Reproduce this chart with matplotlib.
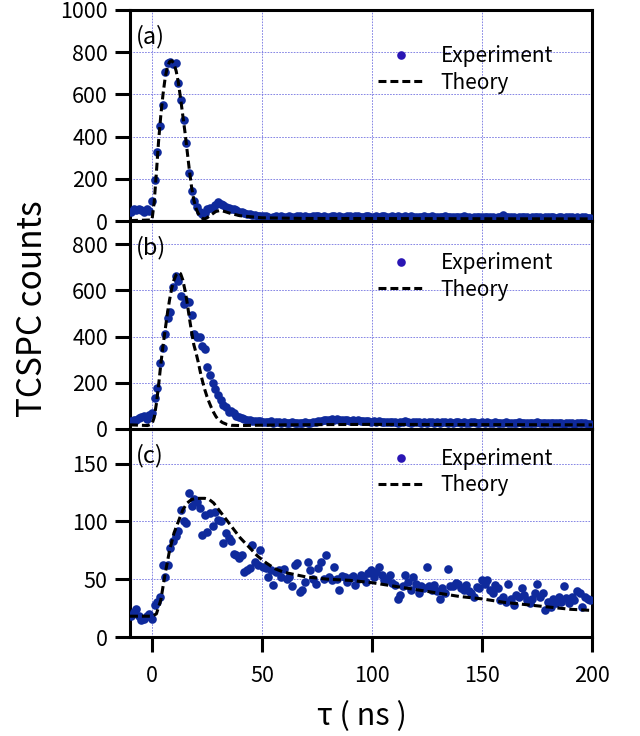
import numpy as np
import matplotlib.pyplot as plt

plt.rcParams.update({
    'font.family': ['Noto Sans CJK JP', 'DejaVu Sans'],
    'font.size': 15,
})

# TCSPC time bins (ns)
t_bins = np.linspace(-9.6, 199.2, 175)

exp_a = [45, 55, 50, 58, 50, 45, 55, 48, 97, 192, 328, 451,
         549, 706, 747, 752, 745, 747, 652, 574, 479, 372, 228, 140,
         97, 66, 42, 32, 38, 55, 62, 60, 75, 90, 82, 75,
         68, 62, 58, 55, 50, 45, 42, 38, 35, 32, 30, 28,
         25, 24, 22,
         22, 20, 8, 18, 22, 20, 24, 19, 21, 23, 20, 18,
         25, 22, 20, 24, 21, 19, 23, 26, 22, 20, 24, 21,
         19, 22, 25, 20, 23, 21, 19, 24, 22, 20, 26, 23,
         21, 19, 22, 24, 20, 18, 23, 21, 25, 22, 19, 21,
         24, 20, 22, 18, 21, 23, 19, 22, 20, 17, 21, 19,
         22, 18, 20, 23, 19, 21, 17, 20, 22, 19, 18, 21,
         20, 17, 19, 22, 18, 20, 16, 19, 21, 18, 20, 17,
         19, 21, 18, 16, 20, 18, 28, 19, 17, 20, 18, 16,
         19, 17, 20, 18, 16, 19, 17, 21, 18, 16, 19, 17,
         20, 18, 16, 19, 17, 15, 18, 20, 17, 16, 18, 15,
         17, 19, 16, 14]

exp_b = [35, 40, 38, 48, 50, 55, 45, 62, 70, 136, 179, 287,
         349, 412, 480, 505, 615, 660, 640, 575, 540, 555, 550, 495,
         410, 398, 400, 360, 345, 270, 232, 200, 175, 145, 125, 105,
         95, 75, 78, 70, 55, 52, 48, 44, 40, 38, 35, 34,
         36, 33, 30,
         32, 30, 34, 28, 31, 29, 27, 30, 28, 26, 29, 27,
         28, 25, 27, 29, 26, 28, 30, 32, 34, 36, 38, 40,
         38, 42, 39, 44, 40, 37, 41, 38, 36, 39, 35, 37,
         34, 36, 33, 35, 32, 34, 31, 33, 30, 32, 29, 31,
         30, 32, 28, 31, 29, 33, 30, 28, 32, 29, 31, 27,
         30, 28, 31, 29, 27, 30, 28, 32, 29, 27, 30, 28,
         31, 29, 27, 30, 28, 26, 29, 31, 28, 26, 29, 27,
         30, 28, 26, 29, 27, 25, 28, 30, 27, 25, 28, 26,
         29, 27, 25, 28, 26, 24, 27, 29, 26, 24, 27, 25,
         28, 26, 24, 27, 25, 23, 26, 28, 25, 23, 26, 24,
         27, 25, 23, 22]

exp_c = [18, 22, 24, 18, 15, 16, 18, 20, 16, 28, 30, 35,
         62, 52, 62, 77, 83, 87, 92, 110, 100, 99, 125, 113,
         119, 117, 112, 88, 106, 91, 107, 96, 108, 101, 100, 81,
         90, 86, 83, 72, 71, 68, 71, 56, 58, 60, 80, 65,
         62, 75, 61, 60, 52, 58, 45, 56, 58, 52, 59, 50,
         52, 44, 62, 64, 39, 41, 48, 65, 58, 50, 46, 60,
         65, 50, 71, 52, 49, 61, 50, 41, 53, 52, 48, 51,
         53, 45, 50, 54, 52, 48, 55, 58, 52, 56, 61, 54,
         49, 50, 54, 47, 45, 33, 36, 44, 54, 48, 41, 52,
         46, 38, 44, 42, 61, 44, 41, 45, 40, 33, 42, 38,
         59, 44, 44, 47, 46, 42, 41, 45, 40, 38, 35, 43,
         42, 49, 46, 49, 41, 38, 45, 42, 32, 35, 30, 46,
         33, 28, 36, 35, 42, 36, 32, 29, 33, 38, 46, 35,
         38, 23, 30, 26, 33, 29, 35, 30, 44, 34, 29, 35,
         32, 40, 38, 26, 35, 33, 32]

# ----- theory curves -----
th_t_a = [-10, 0, 1, 2, 3, 4, 5, 6, 7, 8, 9, 10, 11, 12, 13, 14, 15, 16,
          17, 18, 19, 20, 21, 22, 23, 24, 25, 27, 29, 31, 33, 36, 40, 50,
          70, 200]
th_a = [2, 5, 90, 230, 380, 500, 600, 680, 730, 755, 760, 745, 710, 655,
        580, 500, 420, 330, 240, 160, 100, 60, 35, 20, 12, 10, 15, 30, 45,
        50, 45, 35, 25, 15, 12, 10]

th_t_b = [-10, -2, 0, 1, 2, 3, 4, 5, 6, 7, 8, 9, 10, 11, 12, 13, 14, 15,
          16, 17, 18, 19, 20, 21, 22, 23, 24, 25, 26, 27, 28, 29, 30, 32,
          34, 36, 40, 60, 100, 200]
th_b = [18, 15, 22, 50, 110, 190, 280, 360, 430, 500, 560, 610, 645, 668,
        678, 672, 645, 600, 545, 480, 420, 365, 330, 290, 245, 205, 170,
        140, 115, 92, 72, 55, 42, 28, 20, 16, 15, 18, 20, 18]

th_t_c = [-10, 0, 2, 4, 6, 8, 10, 12, 14, 16, 18, 20, 22, 24, 26, 28, 30,
          32, 34, 36, 38, 40, 44, 48, 52, 56, 60, 65, 70, 80, 90, 100, 110,
          120, 130, 140, 150, 160, 170, 180, 190, 200]
th_c = [18, 18, 20, 32, 55, 75, 90, 100, 110, 116, 119, 120, 120, 120,
        119, 116, 111, 106, 101, 96, 91, 86, 78, 70, 64, 59, 56, 54, 52,
        50, 49, 47, 44, 41, 38, 35, 33, 30, 28, 26, 24, 23]

dot_color = '#0f2a9c'
legend_dot = '#2a16b4'
grid_color = '#7272e0'

fig = plt.figure(figsize=(6.4, 7.36), dpi=100)

# axes positions (figure fraction)
left, width = 130 / 640, 462 / 640
panels = [
    ('(a)', exp_a, th_t_a, th_a, 1000, [0, 200, 400, 600, 800, 1000], 10, 221, 0.718),
    ('(b)', exp_b, th_t_b, th_b, 900, [0, 200, 400, 600, 800], 221, 429, 0.733),
    ('(c)', exp_c, th_t_c, th_c, 180, [0, 50, 100, 150], 429, 637, 0.793),
]

for i, (tag, exp, th_t, th, ymax, yticks, top_px, bot_px, leg_y) in enumerate(panels):
    bottom = 1 - bot_px / 736
    height = (bot_px - top_px) / 736
    ax = fig.add_axes([left, bottom, width, height])

    ax.plot(t_bins, exp, 'o', ms=6.2, mec='none', color=dot_color,
            label='Experiment', zorder=3)
    ax.plot(th_t, th, color='black', lw=2.2, dashes=(2.6, 1.3),
            label='Theory', zorder=4)

    ax.set_xlim(-10, 200)
    ax.set_ylim(0, ymax)
    ax.set_yticks(yticks)
    ax.set_xticks([0, 50, 100, 150, 200])
    ax.grid(True, color=grid_color, linestyle=(0, (2, 1.5)), linewidth=0.6)
    ax.set_axisbelow(True)
    for sp in ax.spines.values():
        sp.set_linewidth(2.2)
    ax.tick_params(axis='y', direction='out', length=11, width=2.2,
                   labelsize=15.5, pad=5)
    if i == 2:
        ax.tick_params(axis='x', direction='out', length=11, width=2.2,
                       labelsize=15.5, pad=9)
    else:
        ax.tick_params(axis='x', length=0, labelbottom=False)

    ax.text(0.012, 1 - 27 / (bot_px - top_px), tag, transform=ax.transAxes,
            ha='left', va='center', fontsize=17)
    leg = ax.legend(loc='center left', bbox_to_anchor=(0.537, leg_y),
                    frameon=False, borderpad=0, borderaxespad=0,
                    handlelength=2.2, handletextpad=0.8, labelspacing=0.2,
                    fontsize=15, numpoints=1)
    leg.legend_handles[0].set_color(legend_dot)

fig.text(33 / 640, 1 - 309 / 736, 'TCSPC counts', rotation=90, ha='center',
         va='center', fontsize=24)
fig.text(362 / 640, 1 - 717 / 736, 'τ ( ns )', ha='center', va='center',
         fontsize=22)

plt.savefig('out.png', dpi=100)
